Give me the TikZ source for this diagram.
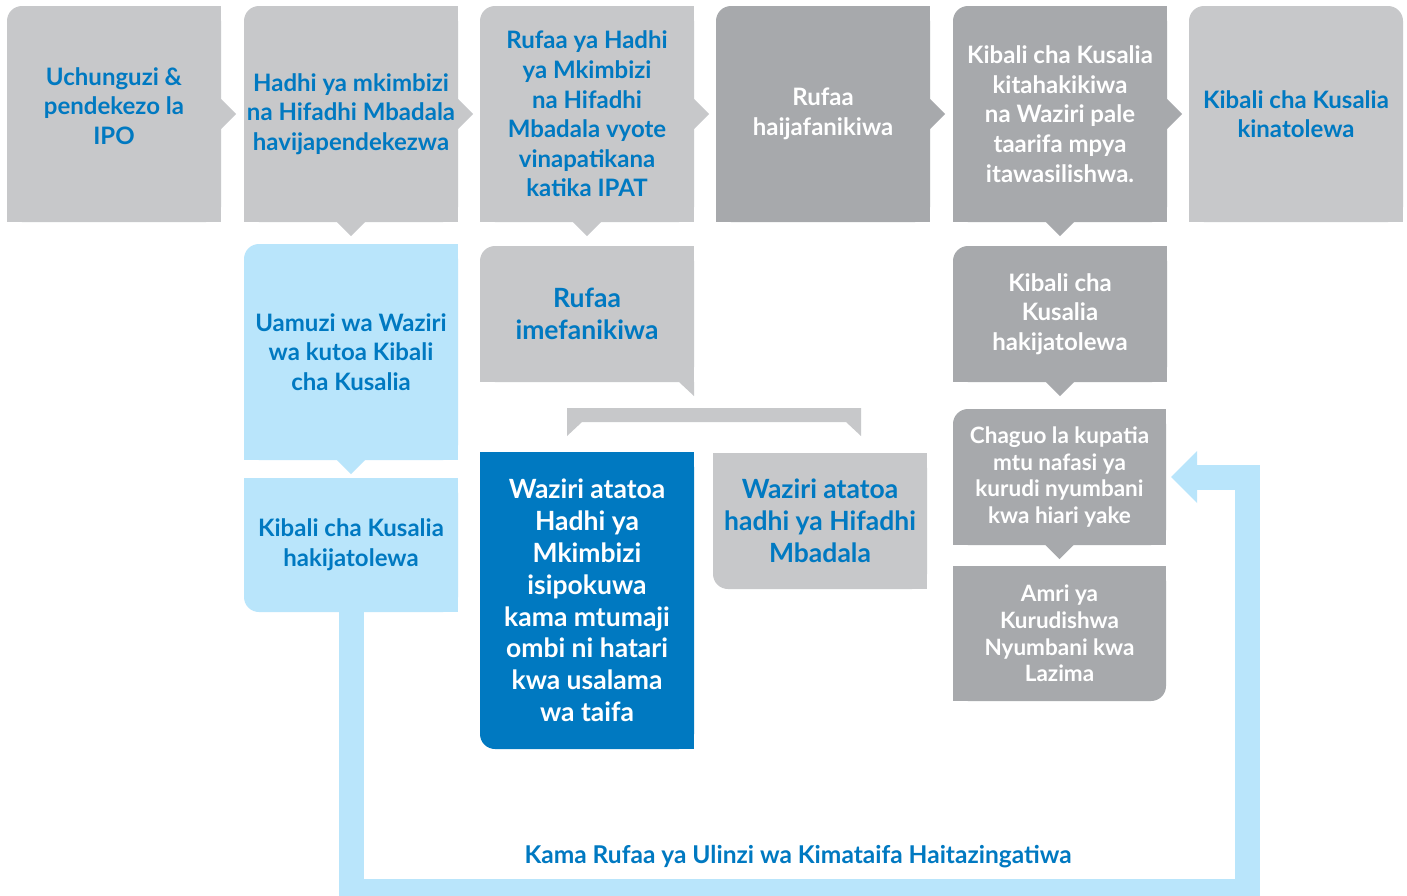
\documentclass[tikz,border=0pt]{standalone}
\usepackage{fontspec}
\setmainfont{Lato}
\usetikzlibrary{calc}
\definecolor{lg}{HTML}{C7C8CA}
\definecolor{dg}{HTML}{A7A9AC}
\definecolor{lb}{HTML}{B9E5FB}
\definecolor{db}{HTML}{0079C1}
\definecolor{tb}{HTML}{0079C1}
\newcommand\rnotch[2]{\fill[#2] ($(#1.east)+(0,-15)$) -- ++(15,15) -- ++(-15,15) -- cycle;}
\newcommand\bnotch[2]{\fill[#2] ($(#1.south)+(-14,0)$) -- ++(14,14) -- ++(14,-14) -- cycle;}
\newcommand\sqc[3]{\fill[#1] (#2) rectangle ++(#3);}
\newcommand\tlonly[2]{\sqc{#2}{#1.north east}{-16,16}\sqc{#2}{#1.south east}{-16,-16}\sqc{#2}{#1.south west}{16,-16}}
\newcommand\blonly[2]{\sqc{#2}{#1.north east}{-16,16}\sqc{#2}{#1.south east}{-16,-16}\sqc{#2}{#1.north west}{16,16}}
\newcommand\bronly[2]{\sqc{#2}{#1.north east}{-16,16}\sqc{#2}{#1.north west}{16,16}\sqc{#2}{#1.south west}{16,-16}}
\newcommand\toponly[2]{\sqc{#2}{#1.south east}{-16,-16}\sqc{#2}{#1.south west}{16,-16}}
\tikzset{
  box/.style={rectangle, rounded corners=15pt, inner sep=0pt, align=center,
    minimum width=214pt, minimum height=216pt,
    font=\fontsize{24}{29.6}\selectfont\bfseries},
  short/.style={minimum height=136pt},
  big/.style={font=\fontsize{26.5}{31.8}\selectfont\bfseries},
  small/.style={font=\fontsize{22.5}{26.7}\selectfont\bfseries},
  light/.style={fill=lg, text=tb},
  dark/.style={fill=dg, text=white},
  pale/.style={fill=lb, text=tb},
  deep/.style={fill=db, text=white},
  loopline/.style={draw=lb, line width=25pt, line join=miter},
  lbl/.style={text=tb, font=\fontsize{24.5}{28}\selectfont\bfseries, inner sep=0pt}
}
\begin{document}
\begin{tikzpicture}[x=1pt, y=-1pt]
\useasboundingbox (0,0) rectangle (1407,895);
\clip (0,0) rectangle (1407,895);
\fill[white] (0,0) rectangle (1407,895);
% top row
\node[box, light, text depth=16pt] (b1) at (114,114) {Uchunguzi \&\\pendekezo la\\IPO};
\tlonly{b1}{lg}\rnotch{b1}{lg}
\node[box, light] (b2) at (351,114) {Hadhi ya mkimbizi\\na Hifadhi Mbadala\\havijapendekezwa};
\tlonly{b2}{lg}\rnotch{b2}{lg}\bnotch{b2}{lg}
\node[box, light] (b3) at (587,114) {Rufaa ya Hadhi\\ya Mkimbizi\\na Hifadhi\\Mbadala vyote\\vinapatikana\\katika IPAT};
\tlonly{b3}{lg}\rnotch{b3}{lg}\bnotch{b3}{lg}
\node[box, dark] (b4) at (823,114) {Rufaa\\haijafanikiwa};
\tlonly{b4}{dg}\rnotch{b4}{dg}
\node[box, dark] (b5) at (1060,114) {Kibali cha Kusalia\\kitahakikiwa\\na Waziri pale\\taarifa mpya\\itawasilishwa.};
\tlonly{b5}{dg}\rnotch{b5}{dg}\bnotch{b5}{dg}
\node[box, light] (b6) at (1296,114) {Kibali cha Kusalia\\kinatolewa};
\toponly{b6}{lg}
% left column
\node[box, pale] (u) at (351,352) {Uamuzi wa Waziri\\wa kutoa Kibali\\cha Kusalia};
\tlonly{u}{lb}\bnotch{u}{lb}
\node[box, pale, minimum height=134pt] (kb) at (351,545) {Kibali cha Kusalia\\hakijatolewa};
\blonly{kb}{lb}
% middle column
\node[box, light, short, big] (ri) at (587,314) {Rufaa\\imefanikiwa};
\tlonly{ri}{lg}
\fill[lg] ($(ri.south east)+(-15,0)$) -- (ri.south east) -- ++(0,14) -- cycle;
\fill[lg] (567,408) -- (861,408) -- (861,436) -- (846,422) -- (582,422) -- (567,436) -- cycle;
\node[box, deep, big, minimum height=297pt] (wh) at (587,600.5) {Waziri atatoa\\Hadhi ya\\Mkimbizi\\isipokuwa\\kama mtumaji\\ombi ni hatari\\kwa usalama\\wa taifa};
\blonly{wh}{db}
\node[box, light, short, big] (wa) at (820,521) {Waziri atatoa\\hadhi ya Hifadhi\\Mbadala};
\blonly{wa}{lg}
% right column
\node[box, dark, short] (kh) at (1060,314) {Kibali cha\\Kusalia\\hakijatolewa};
\tlonly{kh}{dg}\bnotch{kh}{dg}
\node[box, dark, short, small, minimum width=213pt] (ch) at (1059.5,477) {Chaguo la kupatia\\mtu nafasi ya\\kurudi nyumbani\\kwa hiari yake};
\tlonly{ch}{dg}\bnotch{ch}{dg}
\node[box, dark, small, minimum width=213pt, minimum height=135pt] (am) at (1059.5,633.5) {Amri ya\\Kurudishwa\\Nyumbani kwa\\Lazima};
\bronly{am}{dg}
% loop connector
\draw[loopline] (kb.south) |- (1247.5,891.5) |- ($(ch.east)+(30,0)$);
\fill[lb] ($(ch.east)+(5,0)$) -- ++(26,-26) -- ++(0,52) -- cycle;
\node[lbl] (kl) at (798,857) {Kama Rufaa ya Ulinzi wa Kimataifa Haitazingatiwa};
\end{tikzpicture}
\end{document}
